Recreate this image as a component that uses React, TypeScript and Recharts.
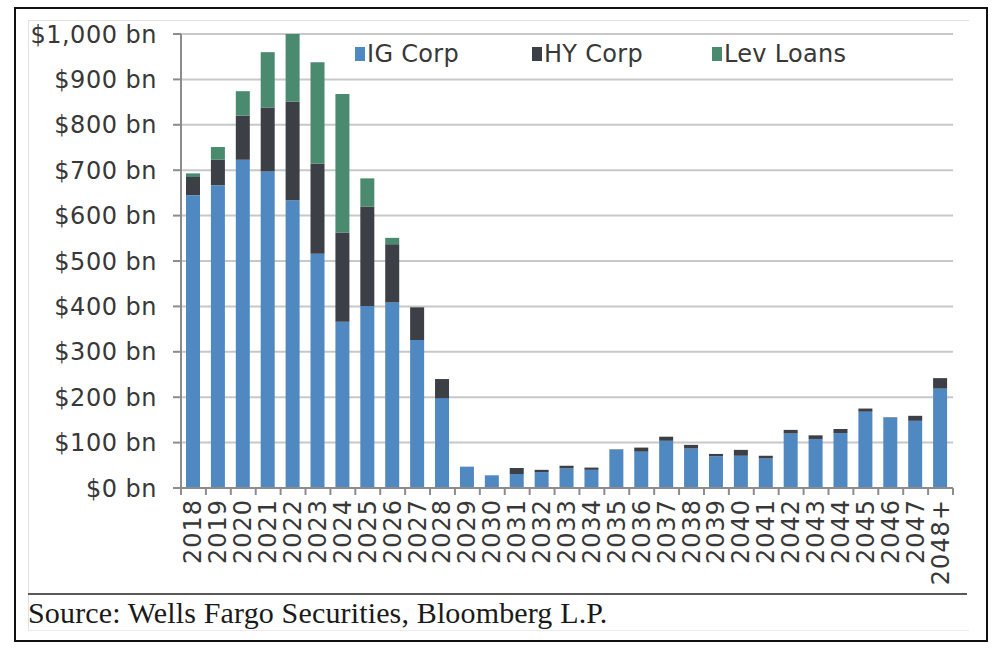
import React from 'react';
import { BarChart, Bar, XAxis, YAxis, CartesianGrid, Legend } from 'recharts';

const years = [
  '2018', '2019', '2020', '2021', '2022', '2023', '2024', '2025', '2026', '2027',
  '2028', '2029', '2030', '2031', '2032', '2033', '2034', '2035', '2036', '2037',
  '2038', '2039', '2040', '2041', '2042', '2043', '2044', '2045', '2046', '2047', '2048+',
];

// $ bn
const igCorp = [645, 667, 723, 697, 634, 516, 366, 401, 409, 326, 198, 47, 28, 31, 35, 43, 40, 84, 80, 104, 87, 70, 71, 65, 120, 108, 121, 168, 155, 148, 219];
const hyCorp = [40, 56, 97, 141, 217, 198, 197, 219, 128, 72, 42, 0, 0, 13, 5, 6, 5, 1, 9, 9, 8, 5, 13, 6, 8, 8, 9, 7, 1, 11, 23];
const levLoans = [8, 28, 54, 122, 149, 224, 305, 62, 14, 0, 0, 0, 0, 0, 0, 0, 0, 0, 0, 0, 0, 0, 0, 0, 0, 0, 0, 0, 0, 0, 0];

const yTicks = [0, 100, 200, 300, 400, 500, 600, 700, 800, 900, 1000];

const series = [
  { key: 'ig', name: 'IG Corp', color: '#5088c2' },
  { key: 'hy', name: 'HY Corp', color: '#3c3f45' },
  { key: 'lev', name: 'Lev Loans', color: '#4a8a6e' },
];

const data = years.map((year, i) => ({ year, ig: igCorp[i], hy: hyCorp[i], lev: levLoans[i] }));

const W = 995;
const H = 648;
const PLOT_LEFT = 181;
const PLOT_RIGHT = 953;
const BAND = (PLOT_RIGHT - PLOT_LEFT) / years.length;
const FONT = '"DejaVu Sans", Verdana, sans-serif';
const TEXT = '#383838';
const AXIS = '#8c8c8c';

const XTick = (props: any) => {
  const { x, y, payload, index } = props;
  const left = x - BAND / 2;
  const last = index === years.length - 1;
  return (
    <g>
      <line x1={left} x2={left} y1={y} y2={y + 7} stroke={AXIS} strokeWidth={2} />
      {last && <line x1={x + BAND / 2} x2={x + BAND / 2} y1={y} y2={y + 7} stroke={AXIS} strokeWidth={2} />}
      <text
        x={x}
        y={y + 11}
        transform={`rotate(-90 ${x} ${y + 11})`}
        textAnchor="end"
        dominantBaseline="central"
        fill={TEXT}
        fontSize={24}
        letterSpacing={1}
        fontFamily={FONT}
      >
        {payload.value}
      </text>
    </g>
  );
};

const legendX = [355, 532, 712];

const LegendContent = () => (
  <div style={{ position: 'relative', width: W, height: 30 }}>
    {series.map((s, i) => (
      <div
        key={s.key}
        style={{
          position: 'absolute',
          left: legendX[i],
          top: 0,
          display: 'flex',
          alignItems: 'center',
          fontFamily: FONT,
          fontSize: 24,
          letterSpacing: 0.3,
          color: TEXT,
          whiteSpace: 'nowrap',
        }}
      >
        <span style={{ display: 'inline-block', width: 10, height: 14, background: s.color, marginRight: 2 }} />
        {s.name}
      </div>
    ))}
  </div>
);

export default function App() {
  return (
    <div style={{ position: 'absolute', left: 0, top: 0, width: W, height: H, background: '#fff' }}>
      <div style={{ position: 'absolute', left: 14, top: 7, width: 970, height: 631, border: '2px solid #111' }} />
      <div style={{ position: 'absolute', left: 28, top: 20, width: 940, height: 609, borderTop: '1px solid #e2e2e2', borderLeft: '1px solid #e2e2e2', borderBottom: '1px solid #ececec' }} />
      <div style={{ position: 'absolute', left: 28, top: 593, width: 939, height: 2, background: '#5a5a5a' }} />
      <div
        style={{
          position: 'absolute',
          left: 28,
          top: 596,
          fontFamily: '"Liberation Serif", "Times New Roman", serif',
          fontSize: 30,
          letterSpacing: 0.15,
          color: '#1a1a1a',
          whiteSpace: 'nowrap',
        }}
      >
        Source: Wells Fargo Securities, Bloomberg L.P.
      </div>
      <div style={{ position: 'absolute', left: 0, top: 0 }}>
        <BarChart width={W} height={H} data={data} margin={{ top: 34, right: W - PLOT_RIGHT, bottom: 0, left: 0 }} barSize={14}>
          <CartesianGrid horizontal vertical={false} stroke="#c8c8c8" strokeWidth={2} />
          <XAxis
            dataKey="year"
            interval={0}
            height={160}
            tickSize={0}
            tickMargin={0}
            tickLine={false}
            axisLine={{ stroke: AXIS, strokeWidth: 2 }}
            tick={<XTick />}
          />
          <YAxis
            width={PLOT_LEFT}
            domain={[0, 1000]}
            ticks={yTicks}
            interval={0}
            tickSize={8}
            tickMargin={16}
            tickLine={{ stroke: AXIS, strokeWidth: 2 }}
            axisLine={{ stroke: AXIS, strokeWidth: 2 }}
            tick={{ fill: TEXT, fontSize: 24, letterSpacing: 0.5, fontFamily: FONT }}
            tickFormatter={(v: number) => `$${v.toLocaleString('en-US')} bn`}
          />
          <Legend
            layout="horizontal"
            verticalAlign="middle"
            align="center"
            content={<LegendContent />}
            wrapperStyle={{ position: 'absolute', left: 0, top: 40, width: W }}
          />
          {series.map((s) => (
            <Bar key={s.key} dataKey={s.key} name={s.name} stackId="a" fill={s.color} isAnimationActive={false} />
          ))}
        </BarChart>
      </div>
    </div>
  );
}
